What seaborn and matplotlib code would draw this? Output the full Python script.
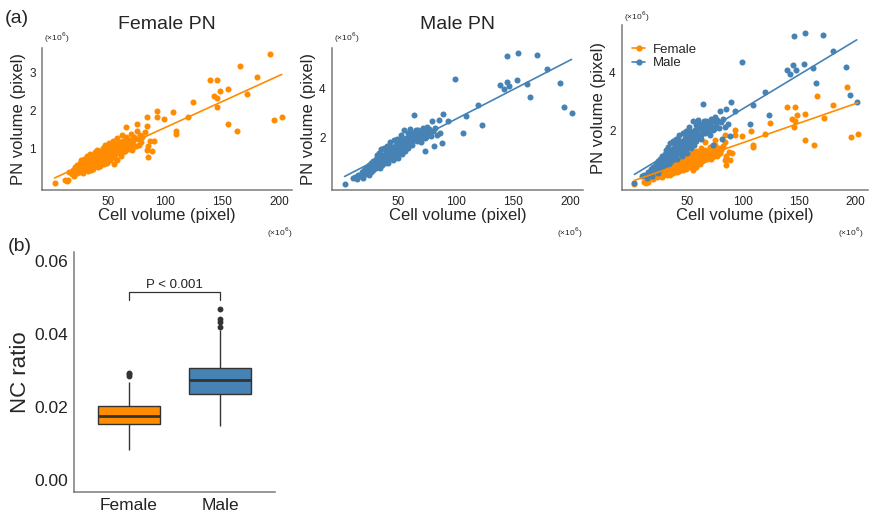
import numpy as np
import pandas as pd
import matplotlib
matplotlib.use("Agg")
import matplotlib.pyplot as plt
from matplotlib.lines import Line2D
import seaborn as sns

# volumes in units of 10^6 pixels
female_cell = [3, 12, 13.5, 15, 16, 18, 19, 20, 21, 22, 23, 23, 24, 25, 25, 26, 26, 27, 27, 28,
               28, 29, 29, 30, 30, 31, 31, 32, 32, 33, 33, 34, 34, 35, 35, 36, 36, 37, 37, 38,
               38, 39, 39, 40, 40, 41, 41, 42, 42, 43, 43, 44, 44, 45, 45, 46, 46, 47, 47, 48,
               48, 49, 49, 50, 50, 51, 51, 52, 52, 53, 53, 54, 54, 55, 55, 56, 56, 57, 58, 58,
               59, 60, 60, 61, 62, 62, 63, 64, 65, 66, 67, 68, 69, 70, 70, 72, 73, 74, 75, 76,
               78, 79, 80, 82, 66, 75, 83.6, 84, 92.4, 93, 99, 106.4, 109, 109, 119.6, 124, 139, 145.6,
               148, 143, 145.6, 145, 155, 155, 162.5, 165.5, 172, 180, 192, 195.6, 202, 88, 83.6, 85,
               87, 90, 85, 24, 28, 33, 36, 41, 44, 47, 53, 57, 61, 64, 67, 71, 77,
               22, 26, 29, 31, 34, 37, 39, 42, 46, 48, 50, 52, 55, 59, 63, 68, 72, 58, 65, 40,
               35, 30, 45, 52, 60]
female_pn = [0.10, 0.17, 0.16, 0.19, 0.38, 0.33, 0.45, 0.30, 0.52, 0.41, 0.36, 0.58, 0.47, 0.62, 0.40, 0.52, 0.70, 0.44, 0.58, 0.66,
             0.36, 0.51, 0.74, 0.60, 0.47, 0.82, 0.55, 0.66, 0.42, 0.58, 0.72, 0.50, 0.86, 0.64, 0.44, 0.70, 0.57, 0.78, 0.48, 0.66,
             0.92, 0.58, 0.73, 0.62, 0.84, 0.52, 0.70, 0.95, 0.64, 0.76, 0.56, 0.85, 0.68, 1.02, 0.74, 0.60, 0.88, 0.79, 1.10, 0.70,
             0.93, 0.84, 0.62, 1.00, 0.78, 1.16, 0.88, 0.72, 0.96, 1.06, 0.82, 0.92, 1.20, 0.86, 0.60, 1.02, 0.76, 1.12, 0.94, 1.28,
             1.04, 0.88, 1.18, 1.00, 1.36, 1.10, 0.92, 1.22, 1.06, 1.30, 1.14, 1.00, 1.24, 1.40, 1.12, 1.20, 1.32, 1.08, 1.48, 1.26,
             1.36, 1.18, 1.30, 1.44, 1.57, 1.66, 1.59, 1.83, 1.83, 2.00, 1.79, 1.97, 1.46, 1.40, 1.85, 2.23, 2.81, 2.81,
             2.52, 2.40, 2.33, 2.10, 2.57, 1.66, 1.46, 3.18, 2.43, 2.88, 3.50, 1.77, 1.85, 0.94, 0.96, 0.79,
             1.22, 1.20, 1.08, 0.55, 0.60, 0.64, 0.80, 0.60, 0.76, 0.95, 0.98, 0.90, 0.80, 1.05, 1.18, 0.98, 1.10,
             0.50, 0.48, 0.62, 0.70, 0.60, 0.68, 0.82, 0.80, 0.72, 1.05, 0.90, 1.10, 1.00, 1.15, 1.20, 1.22, 1.05, 0.70, 0.95, 0.98,
             0.80, 0.70, 0.90, 0.80, 1.02]

male_cell = [3, 10, 12, 14, 15, 17, 18, 19, 20, 21, 22, 23, 24, 24, 25, 26, 26, 27, 28, 28,
             29, 30, 30, 31, 31, 32, 32, 33, 33, 34, 34, 35, 35, 36, 36, 37, 37, 38, 38, 39,
             39, 40, 40, 41, 41, 42, 42, 43, 43, 44, 44, 45, 45, 46, 46, 47, 47, 48, 48, 49,
             49, 50, 50, 51, 51, 52, 52, 53, 53, 54, 55, 55, 56, 56, 57, 58, 58, 59, 60, 60,
             61, 62, 63, 64, 65, 66, 67, 68, 69, 70, 71, 72, 73, 74, 75, 76, 77, 78, 80, 82,
             84, 86, 63.7, 79, 85, 88.6, 93, 88, 80.7, 73, 99, 106, 109, 119.3, 123, 138.6, 142, 144.4,
             146.5, 145, 153.8, 154.7, 162, 165, 171, 179.5, 191, 194.7, 201, 27, 32, 36, 40, 45,
             49, 54, 58, 62, 66, 70,
             22, 25, 28, 31, 34, 37, 40, 43, 46, 50, 53, 57, 61, 65, 69, 74, 38, 44, 48, 55,
             60, 35, 30, 42, 52]
male_pn = [0.13, 0.38, 0.44, 0.33, 0.52, 0.47, 0.62, 0.40, 0.70, 0.55, 0.80, 0.62, 0.90, 0.50, 0.72, 1.00, 0.62, 0.84, 1.08, 0.70,
           0.92, 1.15, 0.78, 0.98, 1.30, 0.86, 1.10, 1.40, 0.96, 1.20, 0.80, 1.05, 1.55, 1.28, 0.92, 1.12, 1.60, 1.36, 1.00, 1.22,
           1.48, 1.08, 1.68, 1.30, 0.98, 1.52, 1.18, 1.40, 1.82, 1.26, 1.62, 1.10, 1.46, 1.90, 1.34, 1.56, 1.20, 1.72, 1.42, 1.30,
           1.96, 1.55, 1.20, 1.78, 1.44, 1.62, 2.10, 1.36, 1.86, 1.58, 2.30, 1.70, 1.46, 1.95, 1.80, 2.18, 1.60, 1.90, 1.74, 2.36,
           2.04, 1.84, 2.20, 1.96, 2.10, 1.88, 2.30, 2.06, 1.92, 2.24, 2.40, 2.12, 2.00, 2.30, 2.44, 2.18, 2.36, 2.06, 2.28, 2.40,
           2.10, 2.20, 2.93, 2.67, 2.73, 2.97, 2.67, 1.80, 1.67, 1.47, 4.37, 2.20, 2.87, 3.33, 2.53, 4.11, 3.96, 4.27,
           4.09, 5.29, 4.33, 5.40, 4.17, 3.64, 5.33, 4.77, 4.20, 3.24, 3.00, 0.95, 1.00, 1.16, 1.30, 1.28,
           1.64, 1.50, 1.98, 1.70, 2.14, 1.82,
           0.66, 0.82, 0.95, 1.05, 1.35, 1.25, 1.40, 1.55, 1.62, 1.80, 1.70, 2.00, 2.20, 2.30, 2.10, 2.05, 1.15, 1.38, 1.58, 1.90,
           2.15, 1.18, 1.00, 1.64, 1.95]

nc_female = [0.0082, 0.0105, 0.0122, 0.0135, 0.0143, 0.0149, 0.0153, 0.0158, 0.0163, 0.0167,
             0.0171, 0.0174, 0.0176, 0.0180, 0.0185, 0.0190, 0.0195, 0.0200, 0.0204, 0.0215,
             0.0232, 0.0269, 0.0285, 0.0290, 0.0294]
nc_male = [0.0149, 0.0172, 0.0190, 0.0204, 0.0215, 0.0223, 0.0230, 0.0236, 0.0242, 0.0248,
           0.0254, 0.0260, 0.0266, 0.0270, 0.0274, 0.0278, 0.0283, 0.0288, 0.0293, 0.0298,
           0.0303, 0.0308, 0.0325, 0.0352, 0.0411, 0.0420, 0.0432, 0.0442, 0.0468]

ORANGE = "#FF8C00"
BLUE = "#4682B4"
AXC = "#7a7a7a"

sns.set_style("white")
plt.rcParams["font.family"] = ["Liberation Sans", "DejaVu Sans"]

df_f = pd.DataFrame({"cell": female_cell, "pn": female_pn, "sex": "Female"})
df_m = pd.DataFrame({"cell": male_cell, "pn": male_pn, "sex": "Male"})
df_all = pd.concat([df_f, df_m], ignore_index=True)
df_nc = pd.DataFrame({"sex": ["Female"] * len(nc_female) + ["Male"] * len(nc_male),
                      "nc": nc_female + nc_male})

fig = plt.figure(figsize=(8.7, 5.13), dpi=100)
W, H = 870, 513


def add_ax(l, t, r, b):
    return fig.add_axes([l / W, 1 - b / H, (r - l) / W, (b - t) / H])


def style(ax):
    sns.despine(ax=ax)
    for s in ("left", "bottom"):
        ax.spines[s].set_color(AXC)
        ax.spines[s].set_linewidth(1.1)
    ax.tick_params(axis="both", length=3, width=0.8, color=AXC, pad=1.5,
                   labelsize=8.5, labelcolor="#222222")


def scatter_panel(ax, data, ylim, yticks):
    for sex, col in (("Female", ORANGE), ("Male", BLUE)):
        sub = data[data["sex"] == sex]
        if sub.empty:
            continue
        sns.scatterplot(data=sub, x="cell", y="pn", color=col, s=19, linewidth=0,
                        ax=ax, legend=False)
        sns.regplot(data=sub, x="cell", y="pn", scatter=False, ci=None, color=col,
                    line_kws={"linewidth": 1.2}, ax=ax, truncate=True)
    ax.set_xlim(-8, 211)
    ax.set_ylim(*ylim)
    ax.set_xticks([50, 100, 150, 200])
    ax.set_yticks(yticks)
    ax.set_xlabel("Cell volume (pixel)", fontsize=12, labelpad=0)
    ax.set_ylabel("PN volume (pixel)", fontsize=12, labelpad=2)
    style(ax)


ax1 = add_ax(42, 48, 292, 190)
scatter_panel(ax1, df_f, (-0.08, 3.65), [1, 2, 3])
ax1.set_title("Female PN", fontsize=14, pad=14)

ax2 = add_ax(332, 48, 583, 190)
scatter_panel(ax2, df_m, (-0.1, 5.62), [2, 4])
ax2.set_title("Male PN", fontsize=14, pad=14)

ax3 = add_ax(622, 25, 868, 190)
scatter_panel(ax3, df_all, (-0.1, 5.68), [2, 4])
handles = [Line2D([], [], color=ORANGE, marker="o", markersize=3.5, linewidth=1.2),
           Line2D([], [], color=BLUE, marker="o", markersize=3.5, linewidth=1.2)]
ax3.legend(handles, ["Female", "Male"], loc="upper left", bbox_to_anchor=(0.02, 0.92),
           frameon=False, fontsize=9.5, handlelength=1.0, handletextpad=0.6,
           labelspacing=0.1, borderaxespad=0)

# multiplier labels
for x, y in ((57, 38), (347, 38), (637, 17), (280, 233), (570, 233), (851, 233)):
    fig.text(x / W, 1 - y / H, "(×10$^6$)", fontsize=6, ha="center", va="center",
             color="#222222")

fig.text(5 / W, 1 - 19 / H, "(a)", fontsize=14, ha="left", va="center")
fig.text(8 / W, 1 - 247 / H, "(b)", fontsize=14, ha="left", va="center")

# box plot
ax4 = add_ax(74, 252, 275, 492)
sns.boxplot(data=df_nc, x="sex", y="nc", hue="sex", palette=[ORANGE, BLUE], width=0.68,
            saturation=1, linewidth=1.0, linecolor="#333333", showcaps=False, legend=False,
            medianprops={"color": "#333333", "linewidth": 2.0},
            flierprops={"marker": "o", "markersize": 3.2, "markerfacecolor": "#333333",
                        "markeredgecolor": "#333333"},
            ax=ax4)
ax4.set_xlim(-0.6, 1.6)
ax4.set_ylim(-0.0033, 0.0625)
ax4.set_yticks([0.00, 0.02, 0.04, 0.06])
ax4.set_yticklabels(["0.00", "0.02", "0.04", "0.06"])
ax4.set_xlabel("")
ax4.set_ylabel("NC ratio", fontsize=16, labelpad=2)
style(ax4)
ax4.tick_params(axis="both", labelsize=12.5)

# significance bracket
ax4.plot([0, 0, 1, 1], [0.0494, 0.0515, 0.0515, 0.0494], color="#333333", linewidth=0.9)
ax4.text(0.5, 0.0518, "P < 0.001", ha="center", va="bottom", fontsize=9.5, color="#222222")

fig.savefig("out.png", dpi=100)
